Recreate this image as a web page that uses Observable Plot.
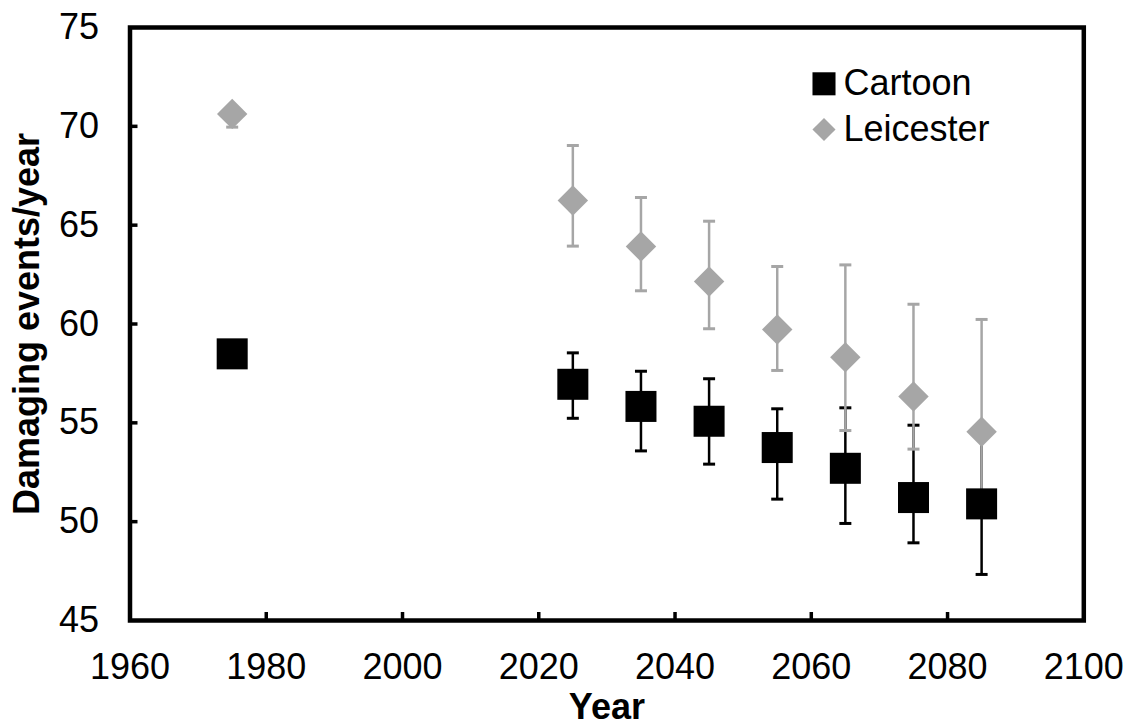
<!DOCTYPE html>
<html>
<head>
<meta charset="utf-8">
<script src="https://cdn.jsdelivr.net/npm/d3@7"></script>
<script src="https://cdn.jsdelivr.net/npm/@observablehq/plot@0.6"></script>
<style>
  html, body { margin: 0; padding: 0; background: #fff; }
  #chart svg { display: block; }
</style>
</head>
<body>
<div id="chart"></div>
<script>
// ---- data ----
const years = [1975, 2025, 2035, 2045, 2055, 2065, 2075, 2085];
const cartoonMean = [58.49, 56.95, 55.83, 55.08, 53.75, 52.70, 51.22, 50.90];
const cartoonLow  = [58.10, 55.23, 53.58, 52.91, 51.14, 49.91, 48.93, 47.33];
const cartoonHigh = [58.90, 58.54, 57.61, 57.23, 55.71, 55.76, 54.88, 54.40];
const leicesterMean = [70.63, 66.25, 63.92, 62.15, 59.72, 58.32, 56.33, 54.55];
const leicesterLow  = [69.96, 63.94, 61.68, 59.76, 57.65, 54.61, 53.67, 50.90];
const leicesterHigh = [70.95, 69.03, 66.40, 65.20, 62.91, 62.99, 61.00, 60.23];
const xTicks = [1960, 1980, 2000, 2020, 2040, 2060, 2080, 2100];
const yTicks = [45, 50, 55, 60, 65, 70, 75];
const seriesNames = ["Cartoon", "Leicester"];
const xLabel = "Year";
const yLabel = "Damaging events/year";

const black = "#000000";
const grey = "#a6a6a6";

const cartoon = years.map((year, i) => ({year, mean: cartoonMean[i], lo: cartoonLow[i], hi: cartoonHigh[i]}));
const leicester = years.map((year, i) => ({year, mean: leicesterMean[i], lo: leicesterLow[i], hi: leicesterHigh[i]}));

// horizontal cap symbol for error bars
const cap = { draw(context) { context.moveTo(-6, 0); context.lineTo(6, 0); } };

const W = 1140, H = 726;
const mL = 129.5, mR = 56.7, mT = 27, mB = 106;
const plotW = W - mL - mR, plotH = H - mT - mB;

function errorBars(data, color, sw) {
  return [
    Plot.ruleX(data, {x: "year", y1: "lo", y2: "hi", stroke: color, strokeWidth: sw}),
    Plot.dot(data, {x: "year", y: "lo", symbol: cap, r: 5, stroke: color, strokeWidth: 3, fill: "none"}),
    Plot.dot(data, {x: "year", y: "hi", symbol: cap, r: 5, stroke: color, strokeWidth: 3, fill: "none"})
  ];
}

const chart = Plot.plot({
  width: W,
  height: H,
  marginLeft: mL,
  marginRight: mR,
  marginTop: mT,
  marginBottom: mB,
  style: {fontFamily: "'Liberation Sans', Arial, sans-serif", fontSize: "36px", color: "#000", background: "#fff"},
  x: {domain: [1960, 2100]},
  y: {domain: [45, 75]},
  marks: [
    ...errorBars(cartoon, black, 2.5),
    ...errorBars(leicester, grey, 2.5),
    Plot.dot(cartoon, {x: "year", y: "mean", symbol: "square", r: 17.5, fill: black, stroke: "none"}),
    Plot.dot(leicester, {x: "year", y: "mean", symbol: "diamond2", r: 13.7, fill: grey, stroke: "none"}),
    // inner tick marks
    Plot.tickX(xTicks.slice(1, -1), {x: d => d, insetTop: plotH - 8, stroke: black, strokeWidth: 3.5}),
    Plot.tickY(yTicks.slice(1, -1), {y: d => d, insetRight: plotW - 8, stroke: black, strokeWidth: 3.5}),
    Plot.frame({stroke: black, strokeWidth: 4.5}),
    Plot.axisX({ticks: xTicks, tickSize: 0, tickPadding: 33, tickFormat: d => String(d), fontSize: 36, label: null}),
    Plot.axisY({ticks: yTicks, tickSize: 0, tickPadding: 31, tickFormat: d => String(d), fontSize: 36, label: null}),
    // axis titles
    Plot.text([xLabel], {frameAnchor: "bottom", textAnchor: "middle", lineAnchor: "top", dy: 73, fontSize: 36, fontWeight: "bold", fill: black}),
    Plot.text([yLabel], {frameAnchor: "left", textAnchor: "middle", lineAnchor: "middle", rotate: -90, dx: -103, fontSize: 36, fontWeight: "bold", fill: black}),
    // legend
    Plot.dot([seriesNames[0]], {frameAnchor: "top-right", dx: -259.8, dy: 56.3, symbol: "square", r: 13, fill: black}),
    Plot.dot([seriesNames[1]], {frameAnchor: "top-right", dx: -259.8, dy: 102, symbol: "diamond2", r: 10.4, fill: grey}),
    Plot.text([seriesNames[0]], {frameAnchor: "top-right", text: d => d, textAnchor: "start", lineAnchor: "middle", dx: -240.3, dy: 56.3, fontSize: 36, fill: black}),
    Plot.text([seriesNames[1]], {frameAnchor: "top-right", text: d => d, textAnchor: "start", lineAnchor: "middle", dx: -240.3, dy: 102, fontSize: 36, fill: black})
  ]
});
document.getElementById("chart").appendChild(chart);
</script>
</body>
</html>
